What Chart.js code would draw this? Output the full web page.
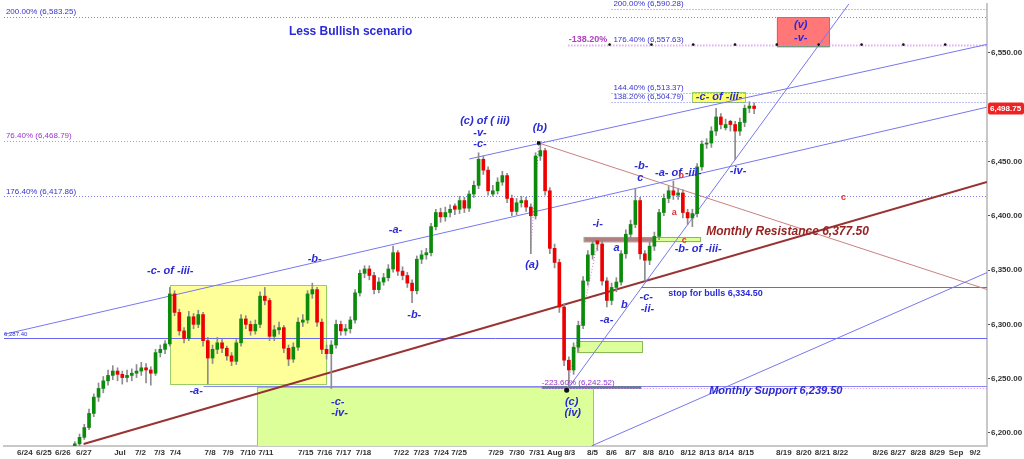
<!DOCTYPE html>
<html>
<head>
<meta charset="utf-8">
<script src="https://cdn.jsdelivr.net/npm/chart.js@4.4.1/dist/chart.umd.min.js"></script>
<style>
html,body{margin:0;padding:0;background:#fff;overflow:hidden}
canvas{display:block}
</style>
</head>
<body>
<canvas id="chart" width="1024" height="459"></canvas>
<script>
// x axis: trading-day index (0 = 6/24), 4 bars per day starting mid 6/26
const tickPos = [0,1,2,3.1,5,6.08,7.08,7.92,9.75,10.69,11.74,12.68,14.78,15.78,16.77,17.82,19.81,20.86,21.91,22.85,24.79,25.89,26.94,27.88,28.67,29.87,30.87,31.87,32.81,33.75,34.91,35.9,36.9,37.95,39.94,40.99,41.98,42.92,45.02,45.96,47.01,48.01,49,50];
const tickLabels = ["6/24","6/25","6/26","6/27","Jul","7/2","7/3","7/4","7/8","7/9","7/10","7/11","7/15","7/16","7/17","7/18","7/22","7/23","7/24","7/25","7/29","7/30","7/31","Aug","8/3","8/5","8/6","8/7","8/8","8/10","8/12","8/13","8/14","8/15","8/19","8/20","8/21","8/22","8/26","8/27","8/28","8/29","Sep","9/2"];
const yTicks = [6200,6250,6300,6350,6400,6450,6500,6550];

const opens = [6186,6190,6196,6205,6218,6233,6241,6248,6253,6257,
6254,6251,6253,6255,6257,6260,6258,6255,6274,6277,
6282,6328,6311,6294,6287,6307,6300,6309,6285,6269,
6277,6283,6278,6271,6266,6283,6305,6300,6294,6300,
6326,6322,6289,6295,6297,6278,6268,6279,6302,6304,
6328,6332,6302,6277,6273,6281,6300,6294,6296,6304,
6329,6347,6351,6345,6332,6339,6343,6351,6366,6349,
6345,6338,6331,6360,6364,6366,6390,6403,6399,6403,
6409,6406,6414,6407,6420,6428,6452,6442,6420,6423,
6431,6437,6416,6404,6412,6414,6408,6400,6455,6460,
6423,6370,6357,6316,6267,6258,6279,6299,6340,6364,
6377,6374,6340,6322,6334,6339,6365,6383,6392,6414,
6365,6359,6372,6381,6403,6416,6423,6419,6421,6403,
6398,6402,6445,6466,6467,6478,6491,6481,6487,6484,
6478,6486,6499,6501];
const highs = [6192,6199,6208,6222,6236,6246,6252,6258,6262,6260,
6257,6258,6259,6263,6265,6264,6261,6277,6281,6285,
6334,6331,6314,6297,6312,6310,6313,6311,6288,6281,
6288,6286,6280,6274,6286,6309,6308,6303,6304,6330,
6334,6324,6299,6302,6299,6281,6283,6306,6309,6331,
6338,6334,6305,6281,6285,6304,6303,6300,6307,6332,
6350,6354,6354,6348,6343,6347,6355,6372,6368,6353,
6348,6341,6363,6368,6370,6393,6406,6407,6408,6410,
6411,6418,6417,6423,6432,6458,6455,6445,6428,6435,
6441,6439,6419,6416,6418,6417,6411,6458,6467,6462,
6426,6374,6360,6319,6270,6283,6303,6344,6368,6378,
6378,6377,6343,6338,6343,6368,6387,6396,6425,6417,
6368,6376,6385,6406,6420,6427,6432,6425,6424,6406,
6406,6448,6469,6471,6482,6499,6494,6489,6488,6487,
6490,6502,6505,6504];
const lows = [6184,6188,6194,6203,6215,6229,6237,6244,6249,6248,
6245,6247,6248,6251,6253,6246,6244,6253,6270,6273,
6280,6308,6290,6283,6285,6296,6297,6280,6245,6264,
6273,6274,6267,6262,6263,6280,6296,6290,6291,6297,
6318,6285,6285,6291,6274,6262,6265,6276,6298,6301,
6324,6298,6273,6268,6241,6278,6290,6290,6292,6301,
6326,6343,6341,6328,6329,6336,6340,6348,6345,6341,
6334,6320,6328,6356,6360,6363,6387,6394,6395,6399,
6401,6402,6403,6404,6417,6425,6438,6419,6418,6420,
6428,6412,6400,6401,6408,6404,6365,6397,6451,6419,
6365,6352,6311,6262,6243,6254,6275,6296,6336,6360,
6368,6336,6316,6318,6330,6336,6361,6379,6389,6360,
6340,6355,6368,6378,6400,6412,6415,6415,6398,6392,
6390,6399,6442,6462,6463,6474,6480,6479,6478,6452,
6474,6482,6495,6494];
const closes = [6190,6196,6205,6218,6233,6241,6248,6253,6257,6254,
6251,6253,6255,6257,6260,6258,6255,6274,6277,6282,
6328,6311,6294,6287,6307,6300,6309,6285,6269,6277,
6283,6278,6271,6266,6283,6305,6300,6294,6300,6326,
6322,6289,6295,6297,6278,6268,6279,6302,6304,6328,
6332,6302,6277,6273,6281,6300,6294,6296,6304,6329,
6347,6351,6345,6332,6339,6343,6351,6366,6349,6345,
6338,6331,6360,6364,6366,6390,6403,6399,6403,6406,
6406,6414,6407,6420,6428,6452,6442,6423,6423,6431,
6437,6416,6404,6412,6414,6408,6400,6455,6460,6423,
6370,6357,6316,6267,6258,6279,6299,6340,6364,6374,
6374,6340,6322,6334,6339,6365,6383,6392,6414,6365,
6359,6372,6381,6403,6416,6423,6419,6421,6403,6398,
6402,6445,6466,6467,6478,6491,6484,6484,6484,6478,
6486,6499,6501,6498.75];
const barTime = closes.map((c, i) => 2.5 + (i + 0.5) / 4);

// trend lines [x0, y0, x1, y1] in day index / price
const trendLines = [
  {pts: [-1.1, 6290.8, 50.63, 6500.0], color: '#7777ee', width: 1},
  {pts: [23.38, 6452.3, 50.63, 6557.8], color: '#7777ee', width: 1},
  {pts: [28.51, 6239.4, 43.45, 6597.2], color: '#7777ee', width: 1},
  {pts: [29.82, 6188.1, 50.63, 6347.7], color: '#7777ee', width: 1},
  {pts: [3.09, 6189.9, 50.63, 6431.2], color: '#993333', width: 2},
  {pts: [27.04, 6467.0, 50.63, 6332.1], color: '#c98080', width: 1},
  {pts: [26.6, 6365.0, 27.04, 6467.0], color: '#cc77dd', width: 1, dash: [1, 2]},
  {pts: [28.51, 6239.4, 30.1, 6372.0], color: '#cc77dd', width: 1, dash: [1, 2]}
];
const fibDots = [30.77, 32.97, 35.17, 37.37, 39.57, 41.77, 44.03, 46.23, 48.43];

// dotted fibonacci levels
const levels = [
  {p: 6590.28, from: 30.87, color: '#8080ee', w: 1, label: '200.00% (6,590.28)', lx: 30.97, lc: '#3333cc'},
  {p: 6583.25, from: -1.1, color: '#8080ee', w: 1, label: '200.00% (6,583.25)', lx: -1.0, lc: '#3333cc'},
  {p: 6557.63, from: 28.6, color: '#cc88ee', w: 2, label: '176.40% (6,557.63)', lx: 30.97, lc: '#3333cc'},
  {p: 6513.37, from: 30.87, color: '#8080ee', w: 1, label: '144.40% (6,513.37)', lx: 30.97, lc: '#3333cc'},
  {p: 6504.79, from: 30.87, color: '#8080ee', w: 1, label: '138.20% (6,504.79)', lx: 30.97, lc: '#3333cc'},
  {p: 6468.79, from: -1.1, color: '#cc88ee', w: 1, label: '76.40% (6,468.79)', lx: -1.0, lc: '#9933cc'},
  {p: 6417.86, from: -1.1, color: '#8080ee', w: 1, label: '176.40% (6,417.86)', lx: -1.0, lc: '#3333cc'},
  {p: 6241.3, from: 27.2, color: '#dd88ee', w: 1, label: '-223.60% (6,242.52)', lx: 27.2, lc: '#9933cc'}
];
// solid horizontal lines
const hLines = [
  {p: 6287.4, from: -1.1, to: 50.63, color: '#6666ee', w: 1},
  {p: 6334.5, from: 32.44, to: 50.63, color: '#6666ee', w: 1},
  {p: 6243.5, from: 9.4, to: 50.63, color: '#8888ee', w: 1},
  {p: 6242.2, from: 27.2, to: 32.44, color: '#6a7a9a', w: 3}
];
const boxes = [
  {x0: 7.65, x1: 15.93, top: 6335.8, bottom: 6244.0, fill: '#ffff99', stroke: '#99cc66'},
  {x0: 12.21, x1: 29.93, top: 6242.2, bottom: 6180, fill: '#ddff99', stroke: '#99cc66'},
  {x0: 29.04, x1: 32.49, top: 6284.4, bottom: 6273.4, fill: '#ddff99', stroke: '#88bb55'},
  {x0: 29.4, x1: 33.12, top: 6380.5, bottom: 6375.5, fill: '#b08080', stroke: '#99aa77'},
  {x0: 33.12, x1: 35.59, top: 6380.5, bottom: 6375.5, fill: '#ddff99', stroke: '#88bb55'},
  {x0: 35.11, x1: 37.95, top: 6513.7, bottom: 6503.7, fill: '#ffff66', stroke: '#99cc66'},
  {x0: 39.57, x1: 42.35, top: 6582.6, bottom: 6555.0, fill: '#ff7777', stroke: '#669966'}
];

const F = 'Liberation Sans, Arial, sans-serif';
const W = 'bold italic 11px ' + F;
const BLUE = '#2a2ad6';
const texts = [
  ['Less Bullish scenario', 17.14, 6569.7, 'bold 12px ' + F, BLUE, 'center'],
  ['-c- of -iii-', 7.65, 6349.5, W, BLUE, 'center'],
  ['-a-', 9.01, 6238.5, W, BLUE, 'center'],
  ['-b-', 15.25, 6360.5, W, BLUE, 'center'],
  ['-c-', 16.46, 6228.4, W, BLUE, 'center'],
  ['-iv-', 16.56, 6218.3, W, BLUE, 'center'],
  ['-a-', 19.5, 6387.1, W, BLUE, 'center'],
  ['-b-', 20.49, 6308.3, W, BLUE, 'center'],
  ['(c) of ( iii)', 24.21, 6487.1, W, BLUE, 'center'],
  ['-v-', 23.95, 6476.1, W, BLUE, 'center'],
  ['-c-', 23.95, 6466.0, W, BLUE, 'center'],
  ['(b)', 27.1, 6480.7, W, BLUE, 'center'],
  ['(a)', 26.68, 6355.0, W, BLUE, 'center'],
  ['-i-', 30.14, 6392.7, W, BLUE, 'center'],
  ['a', 31.13, 6370.6, W, BLUE, 'center'],
  ['-a-', 30.61, 6303.7, W, BLUE, 'center'],
  ['b', 31.55, 6318.3, W, BLUE, 'center'],
  ['-c-', 32.7, 6324.8, W, BLUE, 'center'],
  ['-ii-', 32.76, 6313.8, W, BLUE, 'center'],
  ['-b-', 32.44, 6445.9, W, BLUE, 'center'],
  ['c', 32.39, 6434.9, W, BLUE, 'center'],
  ['-a- of -iii-', 34.38, 6439.4, W, BLUE, 'center'],
  ['-b- of -iii-', 35.43, 6369.7, W, BLUE, 'center'],
  ['-iv-', 37.53, 6441.3, W, BLUE, 'center'],
  ['(c)', 28.77, 6228.4, W, BLUE, 'center'],
  ['(iv)', 28.83, 6218.3, W, BLUE, 'center'],
  ['-c- of -iii-', 36.53, 6509.2, W, BLUE, 'center'],
  ['(v)', 40.83, 6576.1, W, BLUE, 'center'],
  ['-v-', 40.83, 6563.3, W, BLUE, 'center'],
  ['Monthly Resistance 6,377.50', 35.85, 6385.3, 'bold italic 12px ' + F, '#992222', 'left'],
  ['stop for bulls 6,334.50', 33.86, 6328.4, 'bold 9px ' + F, BLUE, 'left'],
  ['Monthly Support 6,239.50', 36.01, 6238.5, 'bold italic 11px ' + F, BLUE, 'left'],
  ['-138.20%', 28.62, 6562.5, 'bold 9px ' + F, '#b040c0', 'left'],
  ['6,287.40', -1.1, 6290.5, '6px ' + F, '#3333cc', 'left'],
  ['b', 34.54, 6436.7, 'bold 9px ' + F, '#e03030', 'center'],
  ['a', 34.17, 6402.7, 'bold 9px ' + F, '#e03030', 'center'],
  ['c', 34.7, 6377.1, 'bold 9px ' + F, '#e03030', 'center'],
  ['c', 43.08, 6416.5, 'bold 9px ' + F, '#e03030', 'center']
];

const overlay = {
  id: 'overlay',
  beforeDatasetsDraw(chart) {
    const {ctx, chartArea: a, scales: {x, y}} = chart;
    const X = v => x.getPixelForValue(v), Y = v => y.getPixelForValue(v);
    ctx.save();
    ctx.beginPath();
    ctx.rect(a.left, a.top, a.right - a.left, a.bottom - a.top);
    ctx.clip();
    boxes.forEach(b => {
      const x0 = X(b.x0), x1 = X(b.x1), y0 = Y(b.top), y1 = Y(b.bottom);
      ctx.fillStyle = b.fill;
      ctx.fillRect(x0, y0, x1 - x0, y1 - y0);
      ctx.strokeStyle = b.stroke;
      ctx.lineWidth = 1;
      ctx.strokeRect(Math.round(x0) + .5, Math.round(y0) + .5, Math.round(x1 - x0) - 1, Math.round(y1 - y0) - 1);
    });
    hLines.forEach(l => {
      ctx.strokeStyle = l.color;
      ctx.lineWidth = l.w;
      const yy = Math.round(Y(l.p)) + (l.w % 2 ? .5 : 0);
      ctx.beginPath();
      ctx.moveTo(X(l.from), yy);
      ctx.lineTo(X(l.to), yy);
      ctx.stroke();
    });
    ctx.setLineDash([1, 2]);
    levels.forEach(l => {
      ctx.strokeStyle = l.color;
      ctx.lineWidth = l.w;
      const yy = Math.round(Y(l.p)) + .5;
      ctx.beginPath();
      ctx.moveTo(X(l.from), yy);
      ctx.lineTo(a.right, yy);
      ctx.stroke();
    });
    ctx.restore();
  },
  afterDatasetsDraw(chart) {
    const {ctx, chartArea: a, scales: {x, y}} = chart;
    const X = v => x.getPixelForValue(v), Y = v => y.getPixelForValue(v);
    ctx.save();
    ctx.textBaseline = 'bottom';
    ctx.textAlign = 'left';
    ctx.font = '8px ' + F;
    levels.forEach(l => {
      ctx.fillStyle = l.lc;
      ctx.fillText(l.label, X(l.lx), Y(l.p) - 1);
    });
    ctx.textBaseline = 'middle';
    texts.forEach(t => {
      ctx.font = t[3];
      ctx.fillStyle = t[4];
      ctx.textAlign = t[5];
      ctx.fillText(t[0], X(t[1]), Y(t[2]));
    });
    // last price tag
    const last = closes[closes.length - 1];
    const ty = Y(last);
    ctx.fillStyle = '#ee2222';
    ctx.beginPath();
    ctx.roundRect(a.right + 1, ty - 6, 36, 12, 2);
    ctx.fill();
    ctx.fillStyle = '#ffffff';
    ctx.font = 'bold 8px ' + F;
    ctx.textAlign = 'left';
    ctx.fillText(last.toLocaleString('en-US', {minimumFractionDigits: 2}), a.right + 3, ty + .5);
    ctx.restore();
  }
};

const datasets = [
  {
    type: 'bar', order: 0, grouped: false, barThickness: 3, minBarLength: 1,
    data: barTime.map((t, i) => ({x: t, y: [opens[i], closes[i]]})),
    backgroundColor: closes.map((c, i) => c >= opens[i] ? '#0b8a0b' : '#ee0000')
  },
  {
    type: 'bar', order: 1, grouped: false, barThickness: 1,
    data: barTime.map((t, i) => ({x: t, y: [lows[i], highs[i]]})),
    backgroundColor: '#8c8c8c'
  },
  {
    type: 'scatter', order: -1,
    data: fibDots.map(d => ({x: d, y: 6557.63})),
    pointRadius: 1.3, pointBackgroundColor: '#111', pointBorderWidth: 0
  },
  {
    type: 'scatter', order: -1,
    data: [{x: 27.04, y: 6467.0}, {x: 28.51, y: 6239.4}],
    pointStyle: ['rect', 'circle'], pointRadius: 2.5, pointBackgroundColor: '#111', pointBorderWidth: 0
  }
];
trendLines.forEach(l => datasets.push({
  type: 'line', order: 2,
  data: [{x: l.pts[0], y: l.pts[1]}, {x: l.pts[2], y: l.pts[3]}],
  borderColor: l.color, borderWidth: l.width, borderDash: l.dash || [],
  pointRadius: 0, fill: false, tension: 0
}));

new Chart(document.getElementById('chart'), {
  type: 'bar',
  data: {datasets},
  plugins: [overlay],
  options: {
    responsive: false,
    devicePixelRatio: 1,
    animation: false,
    layout: {padding: 0},
    plugins: {legend: {display: false}, tooltip: {enabled: false}},
    scales: {
      x: {
        type: 'linear', min: -1.1, max: 50.63, offset: false,
        afterBuildTicks: s => { s.ticks = tickPos.map(v => ({value: v})); },
        afterFit: s => { s.height = 13; s.paddingLeft = 0; s.paddingRight = 0; },
        ticks: {
          autoSkip: false, maxRotation: 0, padding: 2,
          font: {family: F, size: 8, weight: 'bold'}, color: '#333',
          callback: (v, i) => tickLabels[i]
        },
        grid: {display: true, drawOnChartArea: false, drawTicks: false},
        border: {display: true, color: '#c8c8c8', width: 2}
      },
      y: {
        type: 'linear', position: 'right', min: 6188, max: 6595, beginAtZero: false,
        afterBuildTicks: s => { s.ticks = yTicks.map(v => ({value: v})); },
        afterFit: s => { s.width = 37; s.paddingTop = 0; s.paddingBottom = 0; },
        ticks: {
          padding: 1, font: {family: F, size: 8, weight: 'bold'}, color: '#333',
          callback: v => v.toLocaleString('en-US', {minimumFractionDigits: 2})
        },
        grid: {display: true, drawOnChartArea: false, drawTicks: true, tickLength: 3, color: '#555'},
        border: {display: true, color: '#c8c8c8', width: 2}
      }
    }
  }
});
</script>
</body>
</html>
